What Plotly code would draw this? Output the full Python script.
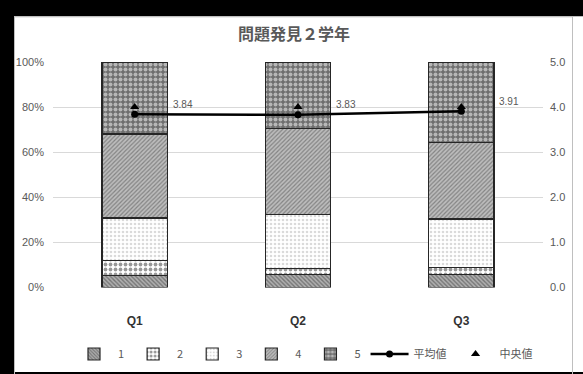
import plotly.graph_objects as go

categories = ["Q1", "Q2", "Q3"]
s1 = [0.054, 0.057, 0.057]
s2 = [0.064, 0.027, 0.030]
s3 = [0.190, 0.238, 0.217]
s4 = [0.373, 0.382, 0.338]
s5 = [0.319, 0.296, 0.358]
means = [3.84, 3.83, 3.91]
medians = [4.0, 4.0, 4.0]
series_names = ["1", "2", "3", "4", "5"]

FONT = "Liberation Sans, Arial, Noto Sans CJK JP, sans-serif"
GRAY = "#595959"

patterns = [
    dict(shape="\\", fgcolor="#3a3a3a", bgcolor="#b0b0b0", size=3, solidity=0.45),
    dict(shape=".", fgcolor="#303030", bgcolor="#ffffff", size=5, solidity=0.45),
    dict(shape=".", fgcolor="#b5b5b5", bgcolor="#ffffff", size=4, solidity=0.35),
    dict(shape="/", fgcolor="#4a4a4a", bgcolor="#bdbdbd", size=3, solidity=0.4),
    dict(shape=".", fgcolor="#ffffff", bgcolor="#6e6e6e", size=5, solidity=0.5),
]

fig = go.Figure()
for name, vals, pat in zip(series_names, [s1, s2, s3, s4, s5], patterns):
    fig.add_trace(go.Bar(
        x=categories, y=vals, name=name,
        marker=dict(color=pat["bgcolor"], pattern=pat,
                    line=dict(color="#262626", width=1.2)),
        yaxis="y",
    ))

fig.add_trace(go.Scatter(
    x=categories, y=means, name="平均値", yaxis="y2",
    mode="lines+markers",
    line=dict(color="#000000", width=2.5),
    marker=dict(symbol="circle", size=7, color="#000000"),
))
fig.add_trace(go.Scatter(
    x=categories, y=medians, name="中央値", yaxis="y2",
    mode="markers",
    marker=dict(symbol="triangle-up", size=8, color="#000000"),
))

for c, m in zip(categories, means):
    fig.add_annotation(
        x=c, y=m, yref="y2", text=f"{m:.2f}", showarrow=False,
        xanchor="left", yanchor="middle", xshift=36, yshift=10,
        font=dict(family=FONT, size=10, color=GRAY),
    )

fig.update_layout(
    width=583, height=374,
    margin=dict(l=53, r=40, t=62, b=85),
    paper_bgcolor="#000000",
    plot_bgcolor="#ffffff",
    barmode="stack",
    bargap=0.6,
    font=dict(family=FONT, color=GRAY),
    title=dict(text="<b>問題発見２学年</b>", x=294 / 583, xref="container", xanchor="center",
               y=1 - 34 / 374, yref="container", yanchor="middle",
               font=dict(family="Noto Sans CJK JP, sans-serif", size=16, color=GRAY)),
    xaxis=dict(showgrid=False, showline=False, ticks="",
               ticklabelstandoff=24,
               tickfont=dict(family=FONT, size=12, color="#333333", weight="bold")),
    yaxis=dict(range=[0, 1], tickvals=[0, 0.2, 0.4, 0.6, 0.8, 1.0], tickformat=".0%",
               showgrid=True, gridcolor="#d9d9d9", gridwidth=1, zeroline=False,
               ticks="", ticklabelstandoff=8,
               tickfont=dict(family=FONT, size=11, color=GRAY)),
    yaxis2=dict(range=[0, 5], tickvals=[0, 1, 2, 3, 4, 5], tickformat=".1f",
                overlaying="y", side="right", showgrid=False, zeroline=False,
                ticks="", ticklabelstandoff=6,
                tickfont=dict(family=FONT, size=11, color=GRAY)),
    legend=dict(orientation="h", x=304 / 583, xanchor="center", xref="container",
                y=(374 - 354) / 374, yref="container", yanchor="middle",
                bgcolor="rgba(0,0,0,0)",
                font=dict(family="Noto Sans CJK JP, sans-serif", size=11, color=GRAY),
                traceorder="normal", itemwidth=38),
    showlegend=True,
)

# White chart area with light border (on black surround)
px_w = 490.0
px_h = 227.0
def fx(px):
    return (px - 53) / px_w
def fy(py):
    return (289 - py) / px_h

fig.add_shape(type="rect", xref="paper", yref="paper",
              x0=fx(14), x1=fx(583), y0=fy(374), y1=fy(16),
              fillcolor="#ffffff", line=dict(width=0), layer="below")
fig.add_shape(type="rect", xref="paper", yref="paper",
              x0=fx(14.5), x1=fx(572.5), y0=fy(380), y1=fy(16.5),
              fillcolor="rgba(0,0,0,0)", line=dict(width=1, color="#bfbfbf"), layer="below")

fig.write_html("out.html")
